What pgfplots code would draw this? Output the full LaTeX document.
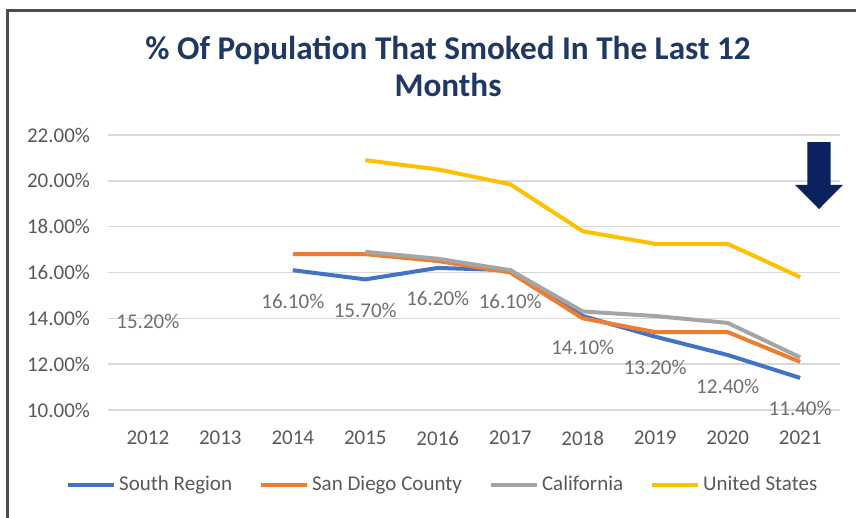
\documentclass[border=0pt]{standalone}
\usepackage{pgfplots}
\pgfplotsset{compat=1.18}
\usepackage{fontspec}
\setmainfont{Carlito}
\definecolor{sblue}{HTML}{4472C4}
\definecolor{sorange}{HTML}{ED7D31}
\definecolor{sgray}{HTML}{A5A5A5}
\definecolor{sgold}{HTML}{FFC000}
\definecolor{titleblue}{HTML}{1F3864}
\definecolor{txtgray}{HTML}{595959}
\definecolor{lblgray}{HTML}{6F6F6F}
\definecolor{arrowblue}{HTML}{0C2160}
\begin{document}
\begin{tikzpicture}
\useasboundingbox (0,0) rectangle (428pt,259pt);
\fill[white] (0,0) rectangle (428pt,259pt);
\draw[line width=1.5pt, color=black!70] (3.5pt,0) -- (3.5pt,253.5pt) -- (428pt,253.5pt);
\node[font=\fontsize{16.6}{18.5}\selectfont\bfseries, text=titleblue, align=center] at (224pt,225.75pt) {\% Of Population That Smoked In The Last 12\\Months};
\begin{axis}[
  at={(54pt,54pt)}, anchor=south west,
  scale only axis, width=366pt, height=137.5pt,
  xmin=-0.55, xmax=9.55, ymin=10, ymax=22,
  clip=false,
  axis line style={draw=none},
  major tick length=0pt,
  xtick={0,1,...,9},
  xticklabels={2012,2013,2014,2015,2016,2017,2018,2019,2020,2021},
  ytick={10,12,...,22},
  ymajorgrids,
  grid style={color=black!15, line width=0.8pt},
  unbounded coords=jump,
  /pgf/number format/assume math mode=true,
  ticklabel style={font=\fontsize{10.5}{12}\selectfont, text=txtgray},
  xticklabel style={yshift=-7pt},
  yticklabel style={xshift=-5.5pt},
  yticklabel={\pgfmathprintnumber[fixed,fixed zerofill,precision=2]{\tick}\%},
  legend style={at={(0.458,-0.273)}, anchor=center, draw=none, fill=none,
    legend columns=4, font=\fontsize{10.5}{12}\selectfont, text=txtgray,
    /tikz/every even column/.append style={column sep=12pt},
    nodes={inner xsep=1.5pt}},
  legend cell align=left,
  legend image code/.code={\draw[#1, line width=2pt] (0pt,0pt) -- (23pt,0pt);},
]
\addplot[sblue, line width=2pt,
  nodes near coords={\pgfmathprintnumber[fixed,fixed zerofill,precision=2]{\pgfplotspointmeta}\%},
  every node near coord/.append style={font=\fontsize{10.5}{12}\selectfont, text=lblgray, anchor=center, yshift=-15.5pt}]
  coordinates {(0,15.2) (1,nan) (2,16.1) (3,15.7) (4,16.2) (5,16.1) (6,14.1) (7,13.2) (8,12.4) (9,11.4)};
\addlegendentry{South Region}
\addplot[sorange, line width=2pt]
  coordinates {(2,16.8) (3,16.8) (4,16.5) (5,16.0) (6,14.0) (7,13.4) (8,13.4) (9,12.1)};
\addlegendentry{San Diego County}
\addplot[sgray, line width=2pt]
  coordinates {(3,16.9) (4,16.6) (5,16.1) (6,14.3) (7,14.1) (8,13.8) (9,12.3)};
\addlegendentry{California}
\addplot[sgold, line width=2pt]
  coordinates {(3,20.9) (4,20.5) (5,19.85) (6,17.8) (7,17.25) (8,17.25) (9,15.8)};
\addlegendentry{United States}
\fill[arrowblue] (axis cs:9.10,21.69) -- (axis cs:9.42,21.69) -- (axis cs:9.42,19.82)
  -- (axis cs:9.59,19.82) -- (axis cs:9.26,18.77) -- (axis cs:8.93,19.82)
  -- (axis cs:9.10,19.82) -- cycle;
\end{axis}
\end{tikzpicture}
\end{document}
